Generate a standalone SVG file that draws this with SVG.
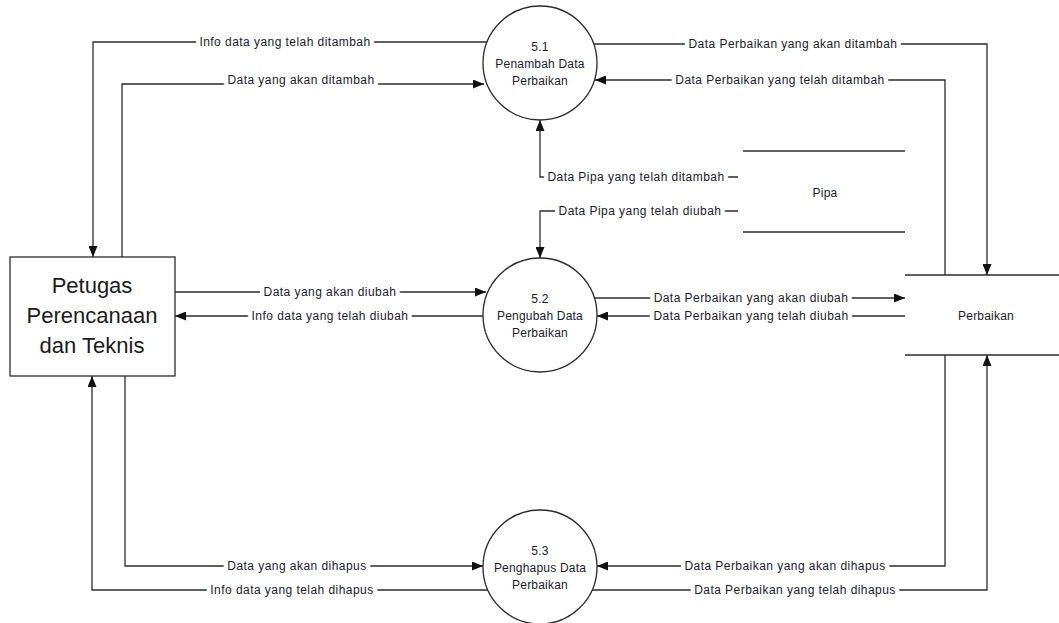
<svg xmlns="http://www.w3.org/2000/svg" width="1059" height="623" viewBox="0 0 1059 623">
<style>
.ln{fill:none;stroke:#2b2b2b;stroke-width:1.3}
.ar{marker-end:url(#arr)}
.lbl{font-family:"Liberation Sans",Arial,sans-serif;font-size:12px;letter-spacing:0.45px;fill:#1b1b2b;text-anchor:middle;stroke:#fff;stroke-width:9;stroke-linejoin:round;paint-order:stroke}
.nt{font-family:"Liberation Sans",Arial,sans-serif;font-size:12px;letter-spacing:0.2px;fill:#1b1b2b;text-anchor:middle}
.big{font-family:"Liberation Sans",Arial,sans-serif;font-size:22px;fill:#1b1b1b;text-anchor:middle}
.node{fill:#fff;stroke:#2b2b2b;stroke-width:1.3}
</style>
<defs>
<marker id="arr" markerWidth="11" markerHeight="9" refX="11" refY="4.5" orient="auto" markerUnits="userSpaceOnUse"><path d="M0,0 L11,4.5 L0,9 z" fill="#111"/></marker>
</defs>
<rect width="1059" height="623" fill="#fff"/>
<g id="connectors">
<path class="ln ar" d="M487,42 H93 V257"/>
<path class="ln ar" d="M122,257 V84 H484"/>
<path class="ln ar" d="M175,292 H486"/>
<path class="ln ar" d="M483,316 H175"/>
<path class="ln ar" d="M125,376 V566 H483"/>
<path class="ln ar" d="M488,590 H92 V376"/>
<path class="ln ar" d="M594,44 H987 V275"/>
<path class="ln ar" d="M945,275 V80 H595"/>
<path class="ln ar" d="M594,298 H905"/>
<path class="ln ar" d="M905,316 H597"/>
<path class="ln ar" d="M945,355 V566 H597"/>
<path class="ln ar" d="M592,590 H987 V355"/>
<path class="ln ar" d="M738,177 H540 V120"/>
<path class="ln ar" d="M738,211 H540 V258"/>
<text class="lbl" x="285" y="46">Info data yang telah ditambah</text>
<text class="lbl" x="301" y="84">Data yang akan ditambah</text>
<text class="lbl" x="330" y="296">Data yang akan diubah</text>
<text class="lbl" x="330" y="320">Info data yang telah diubah</text>
<text class="lbl" x="297" y="570">Data yang akan dihapus</text>
<text class="lbl" x="292" y="594">Info data yang telah dihapus</text>
<text class="lbl" x="793" y="48">Data Perbaikan yang akan ditambah</text>
<text class="lbl" x="780" y="84">Data Perbaikan yang telah ditambah</text>
<text class="lbl" x="751" y="302">Data Perbaikan yang akan diubah</text>
<text class="lbl" x="751" y="320">Data Perbaikan yang telah diubah</text>
<text class="lbl" x="785" y="570">Data Perbaikan yang akan dihapus</text>
<text class="lbl" x="795" y="594">Data Perbaikan yang telah dihapus</text>
<text class="lbl" x="636" y="181">Data Pipa yang telah ditambah</text>
<text class="lbl" x="640" y="215">Data Pipa yang telah diubah</text>
</g>
<g id="petugas">
<rect class="node" x="10" y="257" width="165" height="119"/>
<text class="big" x="92" y="293">Petugas</text>
<text class="big" x="92" y="323">Perencanaan</text>
<text class="big" x="92" y="353">dan Teknis</text>
</g>
<g id="p51">
<circle class="node" cx="540" cy="63" r="57"/>
<text class="nt" x="540" y="51">5.1</text>
<text class="nt" x="540" y="68">Penambah Data</text>
<text class="nt" x="540" y="85">Perbaikan</text>
</g>
<g id="p52">
<circle class="node" cx="540" cy="315" r="57"/>
<text class="nt" x="540" y="303">5.2</text>
<text class="nt" x="540" y="320">Pengubah Data</text>
<text class="nt" x="540" y="337">Perbaikan</text>
</g>
<g id="p53">
<circle class="node" cx="540" cy="567" r="57"/>
<text class="nt" x="540" y="555">5.3</text>
<text class="nt" x="540" y="572">Penghapus Data</text>
<text class="nt" x="540" y="589">Perbaikan</text>
</g>
<g id="pipa">
<line class="ln" x1="743" y1="151" x2="905" y2="151"/>
<line class="ln" x1="743" y1="232" x2="905" y2="232"/>
<text class="nt" x="825" y="197">Pipa</text>
</g>
<g id="perbaikan">
<line class="ln" x1="905" y1="275" x2="1059" y2="275"/>
<line class="ln" x1="905" y1="355" x2="1059" y2="355"/>
<text class="nt" x="986" y="320">Perbaikan</text>
</g>
</svg>
